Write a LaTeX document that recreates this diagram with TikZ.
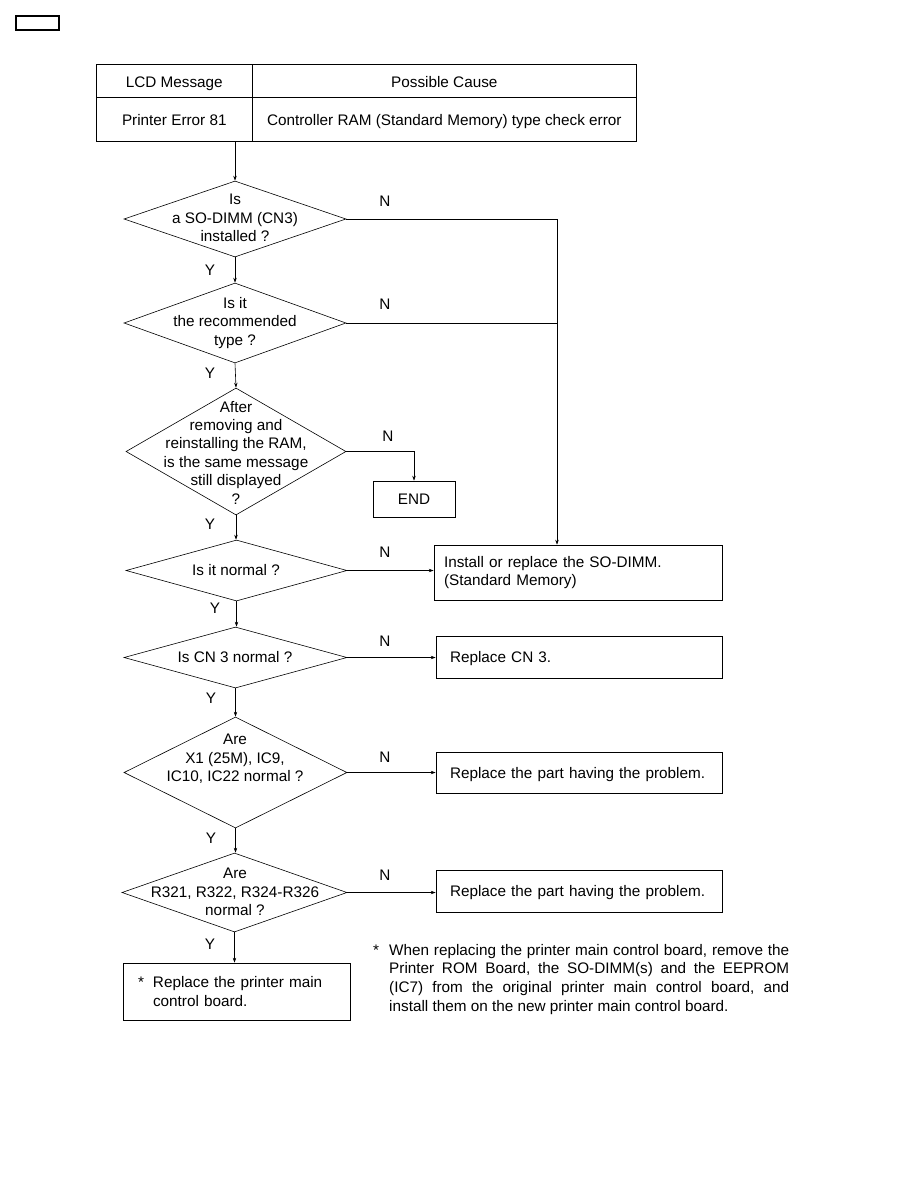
\documentclass[tikz,border=0pt]{standalone}
\usepackage{fontspec}
\setmainfont{Liberation Sans}
\usetikzlibrary{arrows.meta,shapes.geometric}
\begin{document}
\begin{tikzpicture}[x=1pt,y=-1pt,
  ln/.style={line width=0.6pt},
  arr/.style={ln,-{Stealth[length=5pt,width=3.4pt]}},
  dia/.style={draw,shape=diamond,inner sep=0pt,line width=0.6pt},
  box/.style={draw,rectangle,inner sep=0pt,line width=0.6pt,font=\fontsize{15.3}{18.8}\selectfont},
  one/.style={text height=11.5pt,text depth=0pt},
  txt/.style={font=\fontsize{15.3}{18.4}\selectfont,align=center,inner sep=0pt},
  lab/.style={font=\fontsize{15.3}{17}\selectfont,inner sep=0pt}]
\useasboundingbox (0,0) rectangle (918,1188);

% page tag
\node[draw,line width=1.2pt,minimum width=43pt,minimum height=14pt,inner sep=0pt] (tag) at (37.5,23) {};

% table
\node[box,one,minimum width=156pt,minimum height=33pt,anchor=north west,text height=13pt] (c1) at (96,64) {LCD Message};
\node[box,one,minimum width=384pt,minimum height=33pt,anchor=north west,text height=13pt] (c2) at (252,64) {Possible Cause};
\node[box,one,minimum width=156pt,minimum height=44pt,anchor=north west] (c3) at (96,97) {Printer Error 81};
\node[box,one,minimum width=384pt,minimum height=44pt,anchor=north west] (c4) at (252,97) {Controller RAM (Standard Memory) type check error};

% diamonds
\node[dia,minimum width=222pt,minimum height=76pt] (d1) at (235,219) {};
\node[txt] (d1t) at (235,218) {Is\\a SO-DIMM (CN3)\\installed ?};
\node[dia,minimum width=222pt,minimum height=80pt] (d2) at (235,323) {};
\node[txt] (d2t) at (235,323) {Is it\\the recommended\\type ?};
\node[dia,minimum width=220pt,minimum height=127pt] (d3) at (236,451.5) {};
\node[txt] (d3t) at (236,452.5) {After\\removing and\\reinstalling the RAM,\\is the same message\\still displayed\\?};
\node[dia,minimum width=221pt,minimum height=61pt] (d4) at (236.5,570.5) {};
\node[txt] (d4t) at (236,570) {Is it normal ?};
\node[dia,minimum width=223pt,minimum height=61pt] (d5) at (235.5,657.5) {};
\node[txt] (d5t) at (235,657) {Is CN 3 normal ?};
\node[dia,minimum width=223pt,minimum height=111pt] (d6) at (235.5,772.5) {};
\node[txt] (d6t) at (235,759) {Are\\X1 (25M), IC9,\\IC10, IC22 normal ?};
\node[dia,minimum width=225pt,minimum height=79pt] (d7) at (234.5,892.5) {};
\node[txt] (d7t) at (235,892) {Are\\R321, R322, R324-R326\\normal ?};

% boxes
\node[box,one,minimum width=82pt,minimum height=36pt] (end) at (414,499) {END};
\node[box,minimum width=288pt,minimum height=55pt,text width=268pt,inner xsep=10pt,align=left] (inst) at (578,572.5) {Install or replace the SO-DIMM.\\(Standard Memory)};
\node[box,one,minimum width=286pt,minimum height=42pt,text width=258pt,inner xsep=14pt,align=left] (cn3) at (579,657) {Replace CN 3.};
\node[box,one,minimum width=286pt,minimum height=41pt,text width=258pt,inner xsep=14pt,align=left] (part1) at (579,772.5) {Replace the part having the problem.};
\node[box,one,minimum width=286pt,minimum height=42pt,text width=258pt,inner xsep=14pt,align=left] (part2) at (579,891) {Replace the part having the problem.};
\node[box,minimum width=227pt,minimum height=57pt,text width=197pt,inner xsep=15pt,align=left] (board) at (236.5,991.5) {\makebox[15pt][l]{*}Replace the printer main\\\hspace*{15pt}control board.};

% note
\node[inner sep=0pt,anchor=north west,text width=416pt,align=justify,font=\fontsize{15.3}{18.7}\selectfont] (note) at (373,944)
 {\frenchspacing\hangindent=16pt\hangafter=1\noindent\makebox[16pt][l]{*}When replacing the printer main control board, remove the\linebreak{} Printer ROM Board, the SO-DIMM(s) and the EEPROM\linebreak{} (IC7) from the original printer main control board, and\linebreak{} install them on the new printer main control board.\par};

% connectors
\coordinate (j1) at (557,219);
\draw[arr] (d1.north |- c3.south) -- (d1.north);
\draw[arr] (d1.east) -- (j1) -- (j1 |- inst.north);
\draw[ln] (d2.east) -- (d2.east -| j1);
\draw[arr] (d1.south) -- (d2.north);
\draw[arr] (d2.south) -- (d3.north);
\draw[arr] (d3.east) -| (end.north);
\draw[arr] (d3.south) -- (d3.south |- d4.north);
\draw[arr] (d4.east) -- (d4.east -| inst.west);
\draw[arr] (d4.south) -- (d4.south |- d5.north);
\draw[arr] (d5.east) -- (d5.east -| cn3.west);
\draw[arr] (d5.south) -- (d5.south |- d6.north);
\draw[arr] (d6.east) -- (d6.east -| part1.west);
\draw[arr] (d6.south) -- (d6.south |- d7.north);
\draw[arr] (d7.east) -- (d7.east -| part2.west);
\draw[arr] (d7.south) -- (d7.south |- board.north);

% labels
\node[lab] (n1) at (385,201) {N};
\node[lab] (n2) at (385,304) {N};
\node[lab] (n3) at (388,436) {N};
\node[lab] (n4) at (385,552) {N};
\node[lab] (n5) at (385,641) {N};
\node[lab] (n6) at (385,757) {N};
\node[lab] (n7) at (385,875) {N};
\node[lab] (y1) at (210,270) {Y};
\node[lab] (y2) at (210,373) {Y};
\node[lab] (y3) at (210,524) {Y};
\node[lab] (y4) at (215,608) {Y};
\node[lab] (y5) at (211,698) {Y};
\node[lab] (y6) at (211,838) {Y};
\node[lab] (y7) at (210,944) {Y};
\end{tikzpicture}
\end{document}
